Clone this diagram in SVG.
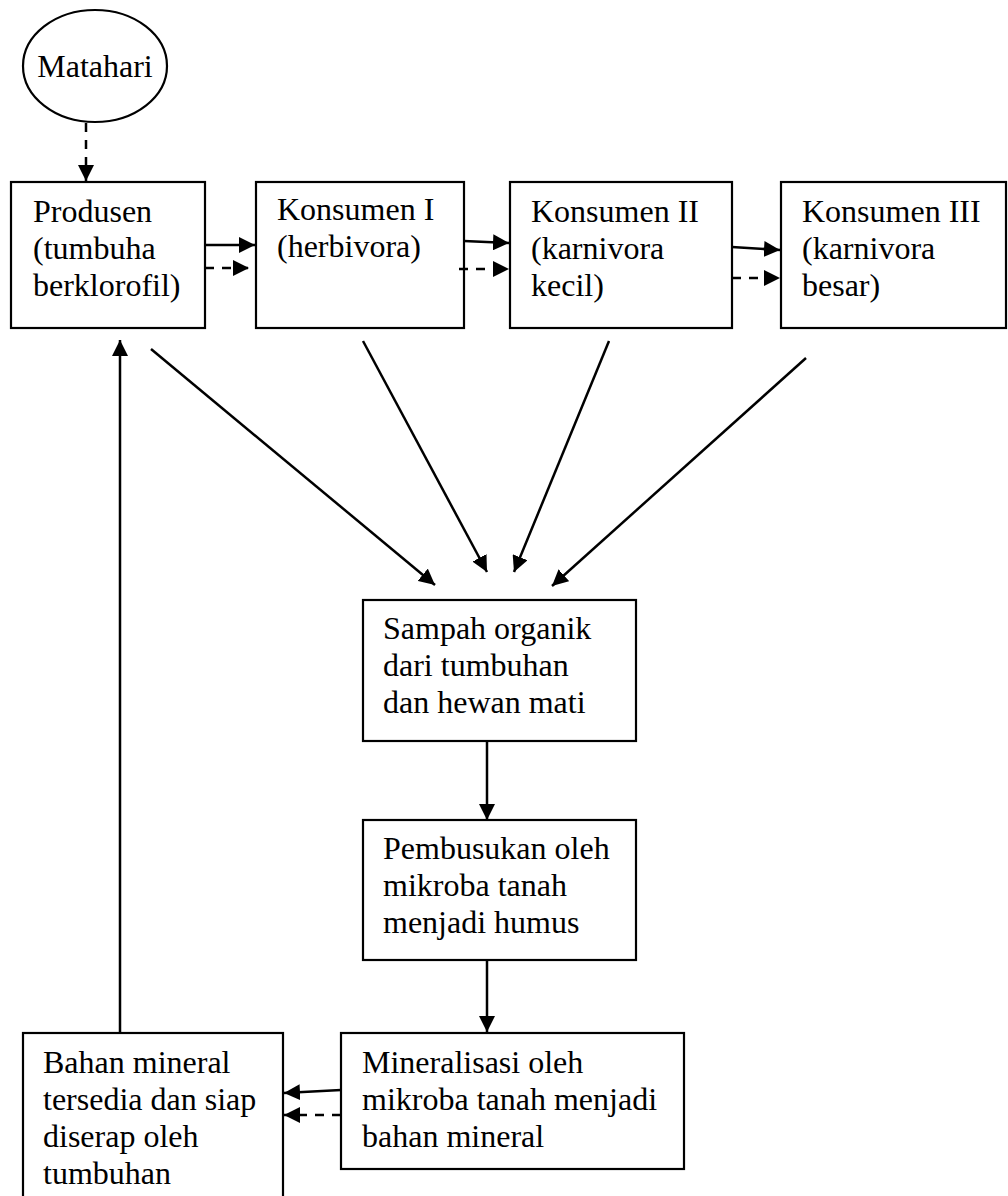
<svg xmlns="http://www.w3.org/2000/svg" width="1008" height="1196" viewBox="0 0 1008 1196">
<style>
  .box { fill: #ffffff; stroke: #000000; stroke-width: 2.2; }
  .lbl { font-family: "Liberation Serif", "Times New Roman", serif; font-size: 32px; fill: #000000; }
  .solid { stroke: #000000; stroke-width: 2.5; fill: none; marker-end: url(#ah); }
  .dash { stroke: #000000; stroke-width: 2.5; fill: none; stroke-dasharray: 9 8; marker-end: url(#ah); }
</style>
<defs>
  <marker id="ah" markerUnits="userSpaceOnUse" markerWidth="17" markerHeight="16" refX="16" refY="8" orient="auto">
    <path d="M0,0 L16,8 L0,16 Z" fill="#000000"/>
  </marker>
</defs>
<rect x="0" y="0" width="1008" height="1196" fill="#ffffff"/>

<g id="matahari">
  <ellipse class="box" cx="95" cy="66" rx="72" ry="56"/>
  <text class="lbl" x="95" y="77" text-anchor="middle">Matahari</text>
</g>

<g id="produsen">
  <rect class="box" x="11" y="182" width="194" height="146"/>
  <text class="lbl" x="33" y="222">Produsen</text>
  <text class="lbl" x="33" y="259">(tumbuha</text>
  <text class="lbl" x="33" y="296">berklorofil)</text>
</g>

<g id="konsumen1">
  <rect class="box" x="256" y="182" width="208" height="146"/>
  <text class="lbl" x="277" y="220">Konsumen I</text>
  <text class="lbl" x="277" y="257">(herbivora)</text>
</g>

<g id="konsumen2">
  <rect class="box" x="510" y="182" width="222" height="146"/>
  <text class="lbl" x="531" y="222">Konsumen II</text>
  <text class="lbl" x="531" y="259">(karnivora</text>
  <text class="lbl" x="531" y="296">kecil)</text>
</g>

<g id="konsumen3">
  <rect class="box" x="781" y="182" width="225" height="146"/>
  <text class="lbl" x="802" y="222">Konsumen III</text>
  <text class="lbl" x="802" y="259">(karnivora</text>
  <text class="lbl" x="802" y="296">besar)</text>
</g>

<g id="sampah">
  <rect class="box" x="363" y="600" width="273" height="141"/>
  <text class="lbl" x="383" y="639">Sampah organik</text>
  <text class="lbl" x="383" y="676">dari tumbuhan</text>
  <text class="lbl" x="383" y="713">dan hewan mati</text>
</g>

<g id="pembusukan">
  <rect class="box" x="363" y="820" width="273" height="140"/>
  <text class="lbl" x="383" y="859">Pembusukan oleh</text>
  <text class="lbl" x="383" y="896">mikroba tanah</text>
  <text class="lbl" x="383" y="933">menjadi humus</text>
</g>

<g id="mineralisasi">
  <rect class="box" x="341" y="1033" width="343" height="136"/>
  <text class="lbl" x="362" y="1073">Mineralisasi oleh</text>
  <text class="lbl" x="362" y="1110">mikroba tanah menjadi</text>
  <text class="lbl" x="362" y="1147">bahan mineral</text>
</g>

<g id="bahan">
  <rect class="box" x="23" y="1033" width="260" height="200"/>
  <text class="lbl" x="43" y="1073">Bahan mineral</text>
  <text class="lbl" x="43" y="1110">tersedia dan siap</text>
  <text class="lbl" x="43" y="1147">diserap oleh</text>
  <text class="lbl" x="43" y="1184">tumbuhan</text>
</g>

<g id="connectors">
  <line class="dash" x1="86" y1="123" x2="86" y2="181"/>

  <line class="solid" x1="205" y1="245" x2="255" y2="245"/>
  <line class="dash" x1="205" y1="268" x2="249" y2="268"/>

  <line class="solid" x1="464" y1="241" x2="509" y2="243"/>
  <line class="dash" x1="459" y1="269" x2="509" y2="269"/>

  <line class="solid" x1="732" y1="247" x2="780" y2="250"/>
  <line class="dash" x1="732" y1="278" x2="780" y2="278"/>

  <line class="solid" x1="151" y1="349" x2="435" y2="585"/>
  <line class="solid" x1="363" y1="341" x2="487" y2="572"/>
  <line class="solid" x1="609" y1="341" x2="514" y2="572"/>
  <line class="solid" x1="806" y1="358" x2="552" y2="586"/>

  <line class="solid" x1="487" y1="741" x2="487" y2="820"/>
  <line class="solid" x1="487" y1="960" x2="487" y2="1032"/>

  <line class="solid" x1="341" y1="1090" x2="284" y2="1093"/>
  <line class="dash" x1="341" y1="1115" x2="284" y2="1115"/>

  <line class="solid" x1="120" y1="1033" x2="120" y2="340"/>
</g>
</svg>
